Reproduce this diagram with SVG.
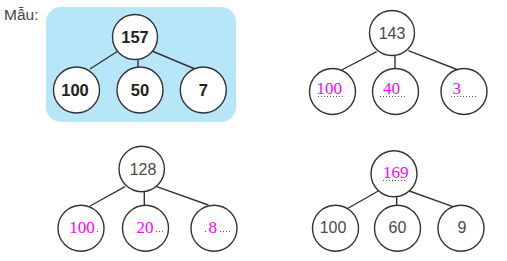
<svg xmlns="http://www.w3.org/2000/svg" width="507" height="261" viewBox="0 0 507 261">
<style>
.c{fill:#fff;stroke:#333;stroke-width:1.4}
.e{stroke:#333;stroke-width:1.4;fill:none}
.b{font-family:"Liberation Sans",Arial,sans-serif;font-weight:bold;font-size:16.5px;fill:#222;text-anchor:middle}
.g{font-family:"Liberation Sans",Arial,sans-serif;font-size:16px;fill:#4a4a4a;text-anchor:middle}
.m{font-family:"Liberation Serif","Times New Roman",serif;font-size:17px;fill:#ff00ff}
.d{stroke:#555;stroke-width:1;stroke-dasharray:1 2;fill:none}
</style>
<rect width="507" height="261" fill="#fff"/>
<text x="4" y="20" font-family="Liberation Sans,Arial,sans-serif" font-size="15.5" fill="#444">Mẫu:</text>
<rect x="46" y="7" width="190" height="115" rx="15" fill="#b8e6f9"/>
<g id="connectors">
<line class="e" x1="118" y1="51" x2="90" y2="69"/>
<line class="e" x1="138" y1="58" x2="138" y2="67"/>
<line class="e" x1="152" y1="51" x2="195" y2="69"/>
<line class="e" x1="376.7" y1="51.7" x2="341.7" y2="70"/>
<line class="e" x1="395" y1="55" x2="395" y2="68"/>
<line class="e" x1="408.3" y1="50.7" x2="458.3" y2="70"/>
<line class="e" x1="125" y1="186.7" x2="90" y2="206"/>
<line class="e" x1="144.3" y1="191" x2="144.3" y2="205"/>
<line class="e" x1="156.7" y1="186.7" x2="208.3" y2="205"/>
<line class="e" x1="378.3" y1="191" x2="346.7" y2="209"/>
<line class="e" x1="396.7" y1="196" x2="396.7" y2="206"/>
<line class="e" x1="409.3" y1="191" x2="455" y2="207.3"/>
</g>
<g id="n157"><circle class="c" cx="135" cy="37" r="22.5"/><text class="b" x="135" y="43">157</text></g>
<g id="n100a"><circle class="c" cx="76.5" cy="90" r="23"/><text class="b" x="75" y="96">100</text></g>
<g id="n50"><circle class="c" cx="140" cy="90" r="23"/><text class="b" x="140" y="96">50</text></g>
<g id="n7"><circle class="c" cx="203.3" cy="90" r="23"/><text class="b" x="203.3" y="96">7</text></g>

<g id="n143"><circle class="c" cx="392" cy="33" r="22.5"/><text class="g" x="392" y="38.5">143</text></g>
<g id="n100b"><circle class="c" cx="332.5" cy="91.5" r="23"/><line class="d" x1="318" y1="96.5" x2="344" y2="96.5"/><text class="m" x="316.5" y="94.3">100</text></g>
<g id="n40"><circle class="c" cx="395.5" cy="91.5" r="23"/><line class="d" x1="380" y1="96.5" x2="407" y2="96.5"/><text class="m" x="383" y="94.3">40</text></g>
<g id="n3"><circle class="c" cx="464" cy="91.5" r="23"/><line class="d" x1="451" y1="96.5" x2="477" y2="96.5"/><text class="m" x="452.5" y="94.3">3</text></g>

<g id="n128"><circle class="c" cx="141.7" cy="169" r="22.7"/><text class="g" x="143" y="174.5">128</text></g>
<g id="n100c"><circle class="c" cx="81" cy="228.3" r="23"/><text class="m" x="69.3" y="232.7">100</text><line class="d" x1="97" y1="231.5" x2="99" y2="231.5"/></g>
<g id="n20"><circle class="c" cx="145.5" cy="228.3" r="23"/><text class="m" x="136.5" y="232.7">20</text><line class="d" x1="156" y1="231.5" x2="165" y2="231.5"/></g>
<g id="n8"><circle class="c" cx="214" cy="228.3" r="23"/><line class="d" x1="205" y1="231.5" x2="207" y2="231.5"/><text class="m" x="208.5" y="232.7">8</text><line class="d" x1="220" y1="231.5" x2="232" y2="231.5"/></g>

<g id="n169"><circle class="c" cx="394" cy="173.7" r="23"/><line class="d" x1="383" y1="180.5" x2="407" y2="180.5"/><text class="m" x="383" y="177.7">169</text></g>
<g id="n100d"><circle class="c" cx="335.5" cy="228.3" r="23"/><text class="g" x="333" y="233">100</text></g>
<g id="n60"><circle class="c" cx="397.5" cy="228.3" r="23"/><text class="g" x="397.5" y="233">60</text></g>
<g id="n9"><circle class="c" cx="461" cy="228.3" r="23"/><text class="g" x="462" y="233">9</text></g>
</svg>
